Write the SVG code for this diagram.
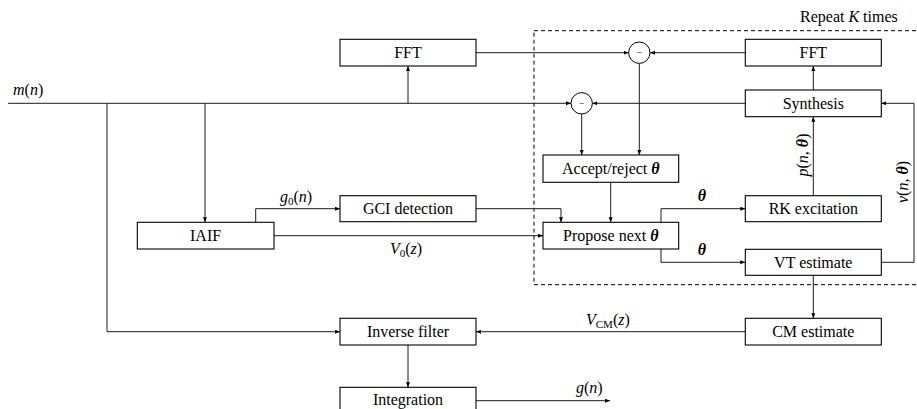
<svg xmlns="http://www.w3.org/2000/svg" width="917" height="409" viewBox="0 0 917 409">
<style>
.box{fill:#fff;stroke:#000;stroke-width:1.1}
.t{font-family:"Liberation Serif","Times New Roman",serif;font-size:16px;fill:#000;text-anchor:middle}
.l{font-family:"Liberation Serif","Times New Roman",serif;font-size:16px;fill:#000}
.i{font-style:italic}
.b{font-style:italic;font-weight:bold}
.s{font-size:11px}
.c{fill:none;stroke:#1a1a1a;stroke-width:1}
.a{marker-end:url(#ah)}
</style>
<defs>
<marker id="ah" markerUnits="userSpaceOnUse" markerWidth="6" markerHeight="5" refX="5" refY="2" orient="auto">
<path d="M0,0 L5,2 L0,4 z" fill="#000"/>
</marker>
</defs>

<rect x="534" y="30.7" width="400" height="254" fill="none" stroke="#000" stroke-width="1" stroke-dasharray="4 3"/>
<text class="l" x="800" y="22">Repeat <tspan class="i">K</tspan> times</text>

<g id="connectors">
<path class="c a" d="M8,103.3 H571"/>
<path class="c a" d="M408,103.3 V66"/>
<path class="c a" d="M205,103.3 V222.3"/>
<path class="c a" d="M107,103.3 V331.7 H340"/>
<path class="c a" d="M476,52.7 H628.6"/>
<path class="c a" d="M745.3,52.7 H650"/>
<path class="c a" d="M745.3,103.3 H592.4"/>
<path class="c a" d="M639.3,63.4 V155"/>
<path class="c a" d="M581.7,114 V155"/>
<path class="c a" d="M813.3,90 V66"/>
<path class="c a" d="M813.3,195.7 V116.7"/>
<path class="c a" d="M610.7,182.3 V222.3"/>
<path class="c a" d="M476,208.7 H561 V222.3"/>
<path class="c a" d="M274,235.7 H543"/>
<path class="c a" d="M255.7,222.3 V208.7 H340"/>
<path class="c a" d="M661,222.3 V208.7 H745.3"/>
<path class="c a" d="M661,249 V262.3 H745.3"/>
<path class="c a" d="M881.3,262.3 H914 V103.3 H881.3"/>
<path class="c a" d="M813.3,275.3 V318.3"/>
<path class="c a" d="M745.3,331.7 H476"/>
<path class="c a" d="M408,345 V387.3"/>
<path class="c a" d="M476,400.7 H610"/>
</g>

<text class="l" x="13" y="95"><tspan class="i">m</tspan>(<tspan class="i">n</tspan>)</text>
<text class="l" x="280" y="201.5"><tspan class="i">g</tspan><tspan class="s" dy="3">0</tspan><tspan dy="-3">(</tspan><tspan class="i">n</tspan>)</text>
<text class="l" x="390" y="254"><tspan class="i">V</tspan><tspan class="s" dy="3">0</tspan><tspan dy="-3">(</tspan><tspan class="i">z</tspan>)</text>
<text class="l" x="586" y="325"><tspan class="i">V</tspan><tspan class="s" dy="3">CM</tspan><tspan dy="-3">(</tspan><tspan class="i">z</tspan>)</text>
<text class="l" x="576" y="393"><tspan class="i">g</tspan>(<tspan class="i">n</tspan>)</text>
<text class="t b" x="702" y="201">θ</text>
<text class="t b" x="702" y="255">θ</text>
<text class="t" transform="translate(808,155) rotate(-90)"><tspan class="i">p</tspan>(<tspan class="i">n</tspan>, <tspan class="b">θ</tspan>)</text>
<text class="t" transform="translate(908,182) rotate(-90)"><tspan class="i">v</tspan>(<tspan class="i">n</tspan>, <tspan class="b">θ</tspan>)</text>

<g id="fft1"><rect class="box" x="340" y="39.3" width="136" height="26.7"/><text class="t" x="408" y="58">FFT</text></g>
<g id="fft2"><rect class="box" x="745.3" y="39.3" width="136" height="26.7"/><text class="t" x="813.3" y="58">FFT</text></g>
<g id="synthesis"><rect class="box" x="745.3" y="90" width="136" height="26.7"/><text class="t" x="813.3" y="108.7">Synthesis</text></g>
<g id="sub1"><circle cx="639.3" cy="52.7" r="10.7" fill="#fff" stroke="#000" stroke-width="1"/><text class="t" x="639.3" y="56" style="font-size:10px">−</text></g>
<g id="sub2"><circle cx="581.7" cy="103.3" r="10.7" fill="#fff" stroke="#000" stroke-width="1"/><text class="t" x="581.7" y="106.6" style="font-size:10px">−</text></g>
<g id="accept"><rect class="box" x="543" y="155" width="135.7" height="27.3"/><text class="t" x="610.8" y="174">Accept/reject <tspan class="b">θ</tspan></text></g>
<g id="propose"><rect class="box" x="543" y="222.3" width="135.7" height="26.7"/><text class="t" x="610.8" y="241">Propose next <tspan class="b">θ</tspan></text></g>
<g id="iaif"><rect class="box" x="137.3" y="222.3" width="136.7" height="26.7"/><text class="t" x="205.6" y="241">IAIF</text></g>
<g id="gci"><rect class="box" x="340" y="195.7" width="136" height="26"/><text class="t" x="408" y="214">GCI detection</text></g>
<g id="rk"><rect class="box" x="745.3" y="195.7" width="136" height="26"/><text class="t" x="813.3" y="214">RK excitation</text></g>
<g id="vt"><rect class="box" x="745.3" y="249.3" width="136" height="26"/><text class="t" x="813.3" y="268">VT estimate</text></g>
<g id="cm"><rect class="box" x="745.3" y="318.3" width="136" height="26.7"/><text class="t" x="813.3" y="337">CM estimate</text></g>
<g id="inverse"><rect class="box" x="340" y="318.3" width="136" height="26.7"/><text class="t" x="408" y="337">Inverse filter</text></g>
<g id="integration"><rect class="box" x="340" y="387.3" width="136" height="26.7"/><text class="t" x="408" y="405">Integration</text></g>
</svg>
